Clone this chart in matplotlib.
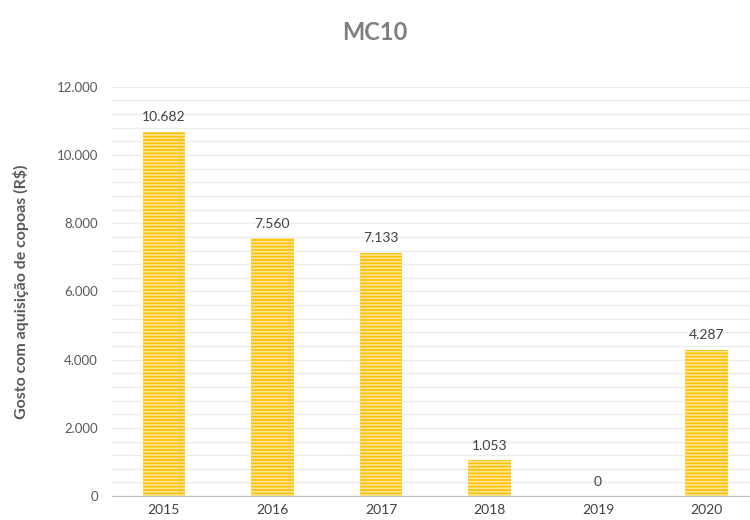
import matplotlib.pyplot as plt
from matplotlib.ticker import MultipleLocator, FuncFormatter

anos = ['2015', '2016', '2017', '2018', '2019', '2020']
gasto = [10682, 7560, 7133, 1053, 0, 4287]

plt.rcParams['font.family'] = ['Lato', 'DejaVu Sans']
plt.rcParams['hatch.linewidth'] = 1.2

fig = plt.figure(figsize=(7.5, 5.2), dpi=100)
ax = fig.add_axes([0.149, 0.046, 0.851, 0.787])

def fmt(v):
    return f'{v:,.0f}'.replace(',', '.')

x = range(len(anos))
ax.bar(x, gasto, width=0.39, color='#FFC000', edgecolor='#FFE699',
       hatch='-----', linewidth=0, zorder=2)
for xi, v in zip(x, gasto):
    ax.text(xi, v + 250, fmt(v), ha='center', va='bottom', fontsize=10, color='#404040')

ax.set_xlim(-0.48, 5.4)
ax.set_ylim(0, 12000)
ax.set_xticks(list(x))
ax.set_xticklabels(anos)
ax.yaxis.set_major_locator(MultipleLocator(2000))
ax.yaxis.set_minor_locator(MultipleLocator(400))
ax.yaxis.set_major_formatter(FuncFormatter(lambda v, p: fmt(v)))
ax.grid(axis='y', which='both', color='#EDEDED', linewidth=1, zorder=0)
for s in ['top', 'right', 'left']:
    ax.spines[s].set_visible(False)
ax.spines['bottom'].set_color('#BFBFBF')
ax.tick_params(axis='y', which='both', length=0, labelsize=9.5, labelcolor='#595959', pad=10)
ax.tick_params(axis='x', length=0, labelsize=10, labelcolor='#404040', pad=6)

ax.set_ylabel('Gosto com aquisição de copoas (R$)', fontsize=11.5, fontweight='bold',
              color='#595959', labelpad=20)
fig.suptitle('MC10', x=0.5, y=0.96, fontsize=17, fontweight='bold', color='#7F7F7F')

fig.savefig('out.png')
